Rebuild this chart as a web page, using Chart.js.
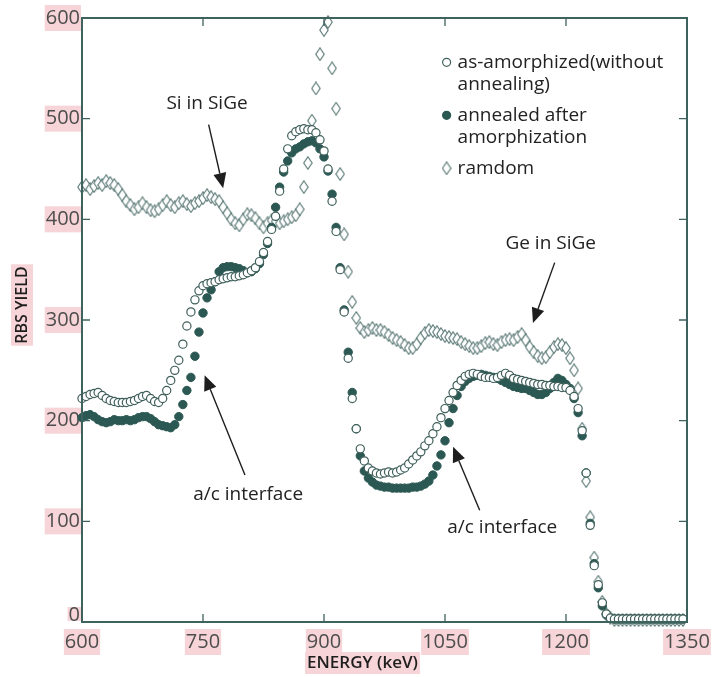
<!DOCTYPE html>
<html>
<head>
<meta charset="utf-8">
<title>RBS</title>
<script src="https://cdn.jsdelivr.net/npm/chart.js@4.4.1/dist/chart.umd.min.js"></script>
<style>
  html, body { margin: 0; padding: 0; background: #ffffff; }
  #caixa { width: 721px; height: 677px; }
</style>
</head>
<body>
<div id="caixa"><canvas id="grafico"></canvas></div>
<script>
// Energias (keV) dos canais
const energias = [
  600, 605, 610, 615, 620, 625, 630, 635, 640, 645,
  650, 655, 660, 665, 670, 675, 680, 685, 690, 695,
  700, 705, 710, 715, 720, 725, 730, 735, 740, 745,
  750, 755, 760, 765, 770, 775, 780, 785, 790, 795,
  800, 805, 810, 815, 820, 825, 830, 835, 840, 845,
  850, 855, 860, 865, 870, 875, 880, 885, 890, 895,
  900, 905, 910, 915, 920, 925, 930, 935, 940, 945,
  950, 955, 960, 965, 970, 975, 980, 985, 990, 995,
  1000, 1005, 1010, 1015, 1020, 1025, 1030, 1035, 1040, 1045,
  1050, 1055, 1060, 1065, 1070, 1075, 1080, 1085, 1090, 1095,
  1100, 1105, 1110, 1115, 1120, 1125, 1130, 1135, 1140, 1145,
  1150, 1155, 1160, 1165, 1170, 1175, 1180, 1185, 1190, 1195,
  1200, 1205, 1210, 1215, 1220, 1225, 1230, 1235, 1240, 1245,
  1250, 1255, 1260, 1265, 1270, 1275, 1280, 1285, 1290, 1295,
  1300, 1305, 1310, 1315, 1320, 1325, 1330, 1335, 1340, 1345
];

// as-amorphized (sem recozimento) - círculos abertos
const semRecozimento = [
  222, 224, 226, 227, 228, 225, 222, 220, 219, 218,
  218, 218, 219, 220, 222, 224, 225, 222, 219, 218,
  222, 230, 240, 250, 260, 276, 294, 308, 320, 329,
  334, 336, 337, 338, 340, 341, 342, 343, 343, 344,
  345, 347, 349, 352, 358, 367, 378, 390, 403, 428,
  450, 470, 483, 487, 489, 490, 489, 489, 486, 479,
  468, 450, 418, 388, 350, 308, 262, 222, 192, 172,
  160, 153, 150, 148, 147, 148, 149, 148, 149, 151,
  153, 157, 161, 165, 169, 175, 180, 187, 194, 203,
  212, 220, 228, 235, 240, 244, 246, 247, 246, 244,
  243, 243, 242, 243, 245, 247, 245, 242, 241, 240,
  239, 238, 237, 236, 236, 235, 235, 234, 234, 233,
  233, 230, 224, 212, 190, 148, 96, 56, 37, 19,
  8, 4, 3, 3, 3, 3, 3, 3, 3, 3,
  3, 3, 3, 3, 3, 3, 3, 3, 3, 3
];

// recozido após amorfização - círculos cheios
const recozido = [
  203, 205, 206, 204, 201, 199, 198, 199, 201, 200,
  200, 201, 200, 201, 203, 204, 204, 202, 199, 196,
  195, 194, 193, 196, 204, 216, 230, 243, 264, 288,
  307, 322, 330, 338, 348, 352, 353, 353, 352, 351,
  349, 347, 348, 351, 356, 365, 376, 392, 412, 432,
  447, 458, 466, 470, 472, 475, 477, 478, 476, 470,
  462, 448, 425, 392, 352, 310, 268, 228, 192, 165,
  150, 143, 139, 136, 135, 134, 134, 133, 133, 133,
  133, 133, 134, 134, 135, 137, 140, 146, 155, 166,
  180, 198, 212, 225, 234, 239, 242, 244, 245, 246,
  245, 244, 243, 242, 240, 238, 236, 234, 233, 232,
  232, 230, 228, 226, 226, 228, 232, 238, 242, 240,
  236, 232, 222, 208, 185, 148, 98, 58, 34, 16,
  7, 4, 3, 3, 3, 3, 3, 3, 3, 3,
  3, 3, 3, 3, 3, 3, 3, 3, 3, 3
];

// random - losangos
const aleatorio = [
  432, 434, 430, 433, 436, 434, 438, 436, 434, 430,
  424, 418, 414, 410, 412, 416, 412, 409, 408, 410,
  414, 418, 414, 412, 416, 418, 415, 413, 416, 418,
  421, 424, 422, 420, 418, 412, 406, 400, 396, 394,
  400, 405, 404, 401, 396, 392, 396, 399, 398, 396,
  398, 400, 402, 404, 410, 432, 456, 498, 530, 564,
  588, 596, 550, 510, 445, 385, 348, 318, 302, 292,
  288, 290, 292, 290, 290, 288, 285, 282, 280, 278,
  275, 272, 272, 276, 282, 287, 290, 289, 288, 286,
  284, 283, 282, 281, 278, 276, 274, 272, 272, 274,
  277, 278, 276, 275, 278, 280, 281, 280, 283, 286,
  280, 273, 268, 264, 262, 263, 268, 273, 276, 275,
  272, 262, 250, 232, 192, 140, 104, 64, 40, 20,
  8, 4, 2, 2, 2, 2, 2, 2, 2, 2,
  2, 2, 2, 2, 2, 2, 2, 2, 2, 2
];

// Marcas dos eixos
const ticksEnergia = [600, 750, 900, 1050, 1200, 1350];
const ticksRendimento = [0, 100, 200, 300, 400, 500, 600];

// Legenda e anotações
const legendas = [
  { tipo: 'aberto', linhas: ['as-amorphized(without', 'annealing)'] },
  { tipo: 'cheio', linhas: ['annealed after', 'amorphization'] },
  { tipo: 'losango', linhas: ['ramdom'] }
];
// setas em coordenadas de dados: texto, posição do texto, início e ponta da seta
const setas = [
  { texto: 'Si in SiGe', tx: 755, ty: 515, de: [757, 494], para: [775, 431] },
  { texto: 'Ge in SiGe', tx: 1181, ty: 376, de: [1186, 357], para: [1159, 297] },
  { texto: 'a/c interface', tx: 806, ty: 127, de: [802, 146], para: [752, 245] },
  { texto: 'a/c interface', tx: 1121, ty: 94, de: [1093, 111], para: [1060, 174] }
];

const corEixo = '#3e625e';
const corCheio = '#2b5853';
const corAberto = '#3f5f5b';
const corLosango = '#557571';
const corRosa = '#f6d4d7';
const fonte = "'Open Sans', sans-serif";

// Monta os pares {x, y} para o Chart.js
function pares(valores) {
    return valores.map((v, i) => ({ x: energias[i], y: v }));
}

// Losango alto desenhado num canvas para usar como pointStyle
function criarLosango() {
    const c = document.createElement('canvas');
    c.width = 10;
    c.height = 14;
    const g = c.getContext('2d');
    g.beginPath();
    g.moveTo(5, 0.8);
    g.lineTo(9.2, 7);
    g.lineTo(5, 13.2);
    g.lineTo(0.8, 7);
    g.closePath();
    g.fillStyle = '#ffffff';
    g.fill();
    g.strokeStyle = corLosango;
    g.lineWidth = 1.1;
    g.stroke();
    return c;
}
const losango = criarLosango();

// Desenha uma marca da legenda
function desenharMarca(ctx, tipo, x, y) {
    if (tipo === 'losango') {
        ctx.drawImage(losango, x - losango.width / 2, y - losango.height / 2);
        return;
    }
    ctx.beginPath();
    ctx.arc(x, y, 4, 0, Math.PI * 2);
    ctx.fillStyle = tipo === 'cheio' ? corCheio : '#ffffff';
    ctx.fill();
    ctx.lineWidth = 1.2;
    ctx.strokeStyle = tipo === 'cheio' ? corCheio : corAberto;
    ctx.stroke();
}

// Moldura, marcas internas, setas, legenda e títulos dos eixos
const pluginMoldura = {
    id: 'moldura',
    afterDatasetsDraw(chart) {
        const { ctx, chartArea: a, scales: { x, y } } = chart;
        ctx.save();

        // moldura
        ctx.strokeStyle = corEixo;
        ctx.lineWidth = 2;
        ctx.strokeRect(a.left, a.top, a.right - a.left, a.bottom - a.top);

        // marcas voltadas para dentro
        ctx.lineWidth = 1.3;
        ctx.beginPath();
        x.ticks.forEach(t => {
            if (t.value <= x.min || t.value >= x.max) return;
            const px = x.getPixelForValue(t.value);
            ctx.moveTo(px, a.bottom);
            ctx.lineTo(px, a.bottom - 8);
            ctx.moveTo(px, a.top);
            ctx.lineTo(px, a.top + 8);
        });
        y.ticks.forEach(t => {
            if (t.value <= y.min || t.value >= y.max) return;
            const py = y.getPixelForValue(t.value);
            ctx.moveTo(a.left, py);
            ctx.lineTo(a.left + 8, py);
            ctx.moveTo(a.right, py);
            ctx.lineTo(a.right - 8, py);
        });
        ctx.stroke();

        // rótulo "0" do eixo y, levantado para não encostar no "600"
        ctx.font = '20px ' + fonte;
        ctx.textAlign = 'right';
        ctx.textBaseline = 'middle';
        const w0 = ctx.measureText(String(ticksRendimento[0])).width;
        const y0r = y.getPixelForValue(ticksRendimento[0]) - 7;
        ctx.fillStyle = corRosa;
        ctx.fillRect(a.left - 3 - w0, y0r - 8, w0 + 2, 14);
        ctx.fillStyle = '#4d4d4d';
        ctx.fillText(String(ticksRendimento[0]), a.left - 2, y0r);

        // setas com texto
        ctx.font = '19px ' + fonte;
        ctx.textAlign = 'center';
        ctx.textBaseline = 'middle';
        setas.forEach(s => {
            const x0 = x.getPixelForValue(s.de[0]);
            const y0 = y.getPixelForValue(s.de[1]);
            const x1 = x.getPixelForValue(s.para[0]);
            const y1 = y.getPixelForValue(s.para[1]);
            const ang = Math.atan2(y1 - y0, x1 - x0);
            const comp = 15;
            const larg = 6.5;
            const bx = x1 - comp * Math.cos(ang);
            const by = y1 - comp * Math.sin(ang);
            ctx.strokeStyle = '#1e1e1e';
            ctx.lineWidth = 1.4;
            ctx.beginPath();
            ctx.moveTo(x0, y0);
            ctx.lineTo(bx, by);
            ctx.stroke();
            ctx.fillStyle = '#1e1e1e';
            ctx.beginPath();
            ctx.moveTo(x1, y1);
            ctx.lineTo(bx + larg * Math.sin(ang), by - larg * Math.cos(ang));
            ctx.lineTo(bx - larg * Math.sin(ang), by + larg * Math.cos(ang));
            ctx.closePath();
            ctx.fill();
            ctx.fillStyle = '#222222';
            ctx.fillText(s.texto, x.getPixelForValue(s.tx), y.getPixelForValue(s.ty));
        });

        // legenda
        const lx = x.getPixelForValue(1052);
        let ly = y.getPixelForValue(556);
        ctx.textAlign = 'left';
        legendas.forEach(item => {
            desenharMarca(ctx, item.tipo, lx, ly);
            item.linhas.forEach((linha, i) => {
                ctx.fillStyle = '#222222';
                ctx.fillText(linha, lx + 11, ly + i * 22.5);
            });
            ly += item.linhas.length * 22.5 + 8;
        });

        // títulos dos eixos com fundo rosa
        ctx.font = '600 17px ' + fonte;
        ctx.textAlign = 'center';
        ctx.textBaseline = 'middle';
        const tituloX = 'ENERGY (keV)';
        const wx = ctx.measureText(tituloX).width;
        const cx = (a.left + a.right) / 2 - 22;
        const cy = a.bottom + 41;
        ctx.fillStyle = corRosa;
        ctx.fillRect(cx - wx / 2 - 2, cy - 11, wx + 4, 22);
        ctx.fillStyle = '#1e1e1e';
        ctx.fillText(tituloX, cx, cy);

        ctx.font = '600 16px ' + fonte;
        const tituloY = 'RBS YIELD';
        const wy = ctx.measureText(tituloY).width;
        ctx.translate(22, (a.top + a.bottom) / 2 - 15);
        ctx.rotate(-Math.PI / 2);
        ctx.fillStyle = corRosa;
        ctx.fillRect(-wy / 2 - 2, -11, wy + 4, 22);
        ctx.fillStyle = '#1e1e1e';
        ctx.fillText(tituloY, 0, 0);

        ctx.restore();
    }
};

Chart.defaults.font.family = fonte;

const ctxGrafico = document.getElementById('grafico').getContext('2d');
const grafico = new Chart(ctxGrafico, {
    type: 'scatter',
    data: {
        datasets: [
            {
                label: 'as-amorphized(without annealing)',
                data: pares(semRecozimento),
                pointStyle: 'circle',
                pointRadius: 4.1,
                pointBorderWidth: 1.2,
                pointBorderColor: corAberto,
                pointBackgroundColor: '#ffffff',
                clip: false
            },
            {
                label: 'annealed after amorphization',
                data: pares(recozido),
                pointStyle: 'circle',
                pointRadius: 4.2,
                pointBorderWidth: 1,
                pointBorderColor: corCheio,
                pointBackgroundColor: corCheio,
                clip: false
            },
            {
                label: 'ramdom',
                data: pares(aleatorio),
                pointStyle: losango,
                pointRadius: 5,
                clip: false
            }
        ]
    },
    options: {
        responsive: true,
        maintainAspectRatio: false,
        animation: false,
        layout: { padding: { left: 0, top: 18, right: 34, bottom: 0 } },
        plugins: {
            legend: { display: false },
            tooltip: { enabled: false }
        },
        scales: {
            x: {
                type: 'linear',
                min: 600,
                max: 1350,
                afterBuildTicks: s => { s.ticks = ticksEnergia.map(v => ({ value: v })); },
                afterFit: s => { s.height = 55; },
                grid: { display: false, drawTicks: false },
                border: { display: false },
                ticks: {
                    autoSkip: false,
                    maxRotation: 0,
                    padding: 8,
                    color: '#4d4d4d',
                    font: { size: 20 },
                    callback: v => String(v),
                    showLabelBackdrop: true,
                    backdropColor: corRosa,
                    backdropPadding: { top: 1, bottom: 1, left: 1, right: 1 }
                }
            },
            y: {
                min: 0,
                max: 600,
                // o "0" é desenhado à parte pelo plugin
                afterBuildTicks: s => { s.ticks = ticksRendimento.filter(v => v > 0).map(v => ({ value: v })); },
                afterFit: s => { s.width = 82; },
                grid: { display: false, drawTicks: false },
                border: { display: false },
                ticks: {
                    padding: 2,
                    color: '#4d4d4d',
                    font: { size: 20 },
                    callback: v => String(v),
                    showLabelBackdrop: true,
                    backdropColor: corRosa,
                    backdropPadding: { top: 1, bottom: 1, left: 1, right: 1 }
                }
            }
        }
    },
    plugins: [pluginMoldura]
});
</script>
</body>
</html>
